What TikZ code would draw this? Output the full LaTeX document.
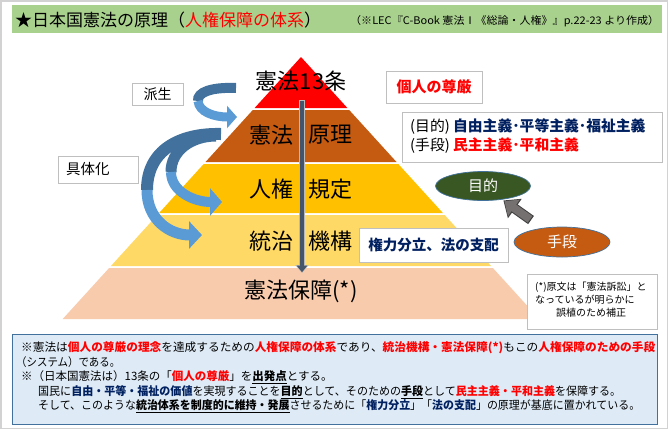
\documentclass[tikz,border=0pt]{standalone}
\usepackage{fontspec}
\setmainfont{Noto Sans CJK JP}
\usepackage{graphicx}
\usetikzlibrary{arrows.meta,shapes.geometric}
\definecolor{tgreen}{HTML}{A9D18E}
\definecolor{cred}{HTML}{FF0000}
\definecolor{cblue}{HTML}{002060}
\definecolor{cbrown}{HTML}{C55A11}
\definecolor{corange}{HTML}{FFC000}
\definecolor{cyellow}{HTML}{FFD966}
\definecolor{cpeach}{HTML}{F8CBAD}
\definecolor{egreen}{HTML}{385723}
\definecolor{ablue}{HTML}{5B9BD5}
\definecolor{adark}{HTML}{41719C}
\definecolor{agray}{HTML}{767171}
\definecolor{adgray}{HTML}{3F3F3F}
\definecolor{slate}{HTML}{44546A}
\definecolor{bgray}{HTML}{BFBFBF}
\definecolor{nfill}{HTML}{DEEBF7}
\definecolor{nbord}{HTML}{41719C}
\newcommand\Rd[1]{\textbf{\textcolor{cred}{#1}}}
\newcommand\Bl[1]{\textbf{\textcolor{cblue}{#1}}}
\newcommand\Ul[1]{\underline{\textbf{#1}}}
\newcommand\fitw[2]{\resizebox{#1}{\height}{#2}}
\begin{document}
\begin{tikzpicture}[x=1pt,y=-1pt,
 lbl/.style={inner sep=0pt, font=\fontsize{22}{24}\selectfont},
 gbox/.style={draw=bgray, line width=0.9pt, fill=white, inner sep=0pt},
 ntxt/.style={anchor=west, inner sep=0pt, font=\fontsize{11.5}{13}\selectfont},
 smtxt/.style={anchor=west, inner sep=0pt, font=\fontsize{10}{11}\selectfont},
 oval/.style={ellipse, draw=adark, line width=0.7pt, inner sep=0pt, text=white, font=\fontsize{15}{16}\selectfont},
]
\useasboundingbox (0,0) rectangle (668,429);
\draw[draw=gray!35, line width=1.5pt] (0.75,0.75) rectangle (667.25,428.25);

% title
\node[fill=tgreen, anchor=north west, minimum width=650pt, minimum height=28pt, inner sep=0pt] (tbar) at (12,5) {};
\node[anchor=west, inner sep=0pt, font=\fontsize{17}{19}\selectfont] (ttl) at (15,20) {★日本国憲法の原理（\textcolor{cred}{人権保障の体系}）};
\node[anchor=west, inner sep=0pt, font=\fontsize{10.5}{12}\selectfont] (src) at (350,21) {\fitw{309pt}{（※LEC『C-Book 憲法Ⅰ《総論・人権》』p.22-23 より作成）}};

% pyramid
\fill[cred] (301,57) -- (347.4,108) -- (254.6,108) -- cycle;
\fill[cbrown] (252.8,110) -- (349.2,110) -- (396.5,162) -- (205.5,162) -- cycle;
\fill[corange] (203.7,164) -- (398.3,164) -- (442.9,213) -- (159.1,213) -- cycle;
\fill[cyellow] (157.3,215) -- (444.7,215) -- (491.1,266) -- (110.9,266) -- cycle;
\fill[cpeach] (109.1,268) -- (492.9,268) -- (539.3,319) -- (62.7,319) -- cycle;

\node[lbl] (l1) at (301,81) {憲法13条};
\node[lbl, anchor=east] (l2a) at (294,135) {憲法};
\node[lbl, anchor=west] (l2b) at (308,135) {原理};
\node[lbl, anchor=east] (l3a) at (294,189) {人権};
\node[lbl, anchor=west] (l3b) at (308,189) {規定};
\node[lbl, anchor=east] (l4a) at (294,241) {統治};
\node[lbl, anchor=west] (l4b) at (308,241) {機構};
\node[lbl] (l5) at (301,291) {憲法保障(*)};

% vertical arrow
\coordinate (vt) at (302,100);
\coordinate (vb) at (302,273);
\draw[gray!55, line width=6pt, -{Triangle[width=13pt,length=8pt]}] (vt) -- (vb);
\draw[slate, line width=4pt, -{Triangle[width=10pt,length=6.5pt]}, shorten >=0.8pt, shorten <=0.8pt] (vt) -- (vb);

% curved arrows
\draw[adark, line width=10pt] (236,88) .. controls (212,87) and (197,92) .. (198,101);
\draw[ablue, line width=9pt, -{Triangle[width=22pt,length=10pt]}] (198,101) .. controls (199,112) and (214,117) .. (237,117);

\draw[adark, line width=12pt] (221,134) .. controls (180,133) and (147,150) .. (147,190);
\draw[ablue, line width=11pt, -{Triangle[width=27pt,length=13pt]}] (147,190) .. controls (147,220) and (170,235) .. (202,235);

\draw[adark, line width=11pt] (216,136) .. controls (192,136) and (171,150) .. (171,172);
\draw[ablue, line width=10pt, -{Triangle[width=27pt,length=12pt]}] (171,172) .. controls (171,192) and (195,202) .. (222,202);

% side boxes
\node[gbox, minimum width=51pt, minimum height=22pt, font=\fontsize{14}{15}\selectfont] (hasei) at (157.5,94) {派生};
\node[gbox, text width=64pt, inner xsep=8pt, minimum height=27pt, align=left, font=\fontsize{14.5}{16}\selectfont] (gutai) at (98,169.5) {具体化};

\node[gbox, minimum width=96pt, minimum height=32pt, text=cred, font=\bfseries\fontsize{15}{16}\selectfont] (kojin) at (434,87) {個人の尊厳};
\node[gbox, anchor=north west, minimum width=260pt, minimum height=50pt] (mokb) at (402,112) {};
\node[anchor=west, inner sep=0pt, font=\fontsize{14.8}{16}\selectfont] (mt1) at (410,127) {(目的) \Bl{自由主義･平等主義･福祉主義}};
\node[anchor=west, inner sep=0pt, font=\fontsize{14.8}{16}\selectfont] (mt2) at (410,146) {(手段) \Rd{民主主義･平和主義}};

\node[gbox, minimum width=149pt, minimum height=34pt, text=cblue, font=\bfseries\fontsize{14.5}{16}\selectfont] (kenr) at (433.5,245) {権力分立、法の支配};

\node[oval, fill=egreen, minimum width=95pt, minimum height=29pt] (mok) at (483,186) {目的};
\node[oval, fill=cbrown, minimum width=96pt, minimum height=30pt] (shu) at (562,242) {手段};
\draw[adgray, line width=10pt, -{Triangle[width=23pt,length=14pt]}, shorten <=38pt, shorten >=25pt] (shu.center) -- (mok.center);
\draw[agray, line width=8pt, -{Triangle[width=19.5pt,length=11.5pt]}, shorten <=39.2pt, shorten >=26.3pt] (shu.center) -- (mok.center);

\node[gbox, anchor=north west, minimum width=130pt, minimum height=55pt] (gen) at (527,274) {};
\node[smtxt] (g1) at (535,287) {(*)原文は「憲法訴訟」と};
\node[smtxt] (g2) at (535,300) {なっているが明らかに};
\node[smtxt] (g3) at (556,313) {誤植のため補正};

% bottom note
\node[draw=nbord, fill=nfill, line width=1.1pt, anchor=north west, minimum width=645pt, minimum height=90pt, inner sep=0pt] (note) at (12,334) {};
\node[ntxt] (n1) at (21,348) {\fitw{634pt}{※憲法は\Rd{個人の尊厳の理念}を達成するための\Rd{人権保障の体系}であり、\Rd{統治機構・憲法保障(*)}もこの\Rd{人権保障のための手段}}};
\node[ntxt] (n2) at (16,362) {\fitw{104pt}{（システム）である。}};
\node[ntxt] (n3) at (21,377) {※（日本国憲法は）13条の「\Rd{個人の尊厳}」を\Ul{出発点}とする。};
\node[ntxt] (n4) at (38,392) {\fitw{583pt}{国民に\Bl{自由・平等・福祉の価値}を実現することを\Ul{目的}として、そのための\Ul{手段}として\Rd{民主主義・平和主義}を保障する。}};
\node[ntxt] (n5) at (38,406) {\fitw{602pt}{そして、このような\Ul{統治体系を制度的に維持・発展}させるために「\Bl{権力分立}」「\Bl{法の支配}」の原理が基底に置かれている。}};
\end{tikzpicture}
\end{document}
